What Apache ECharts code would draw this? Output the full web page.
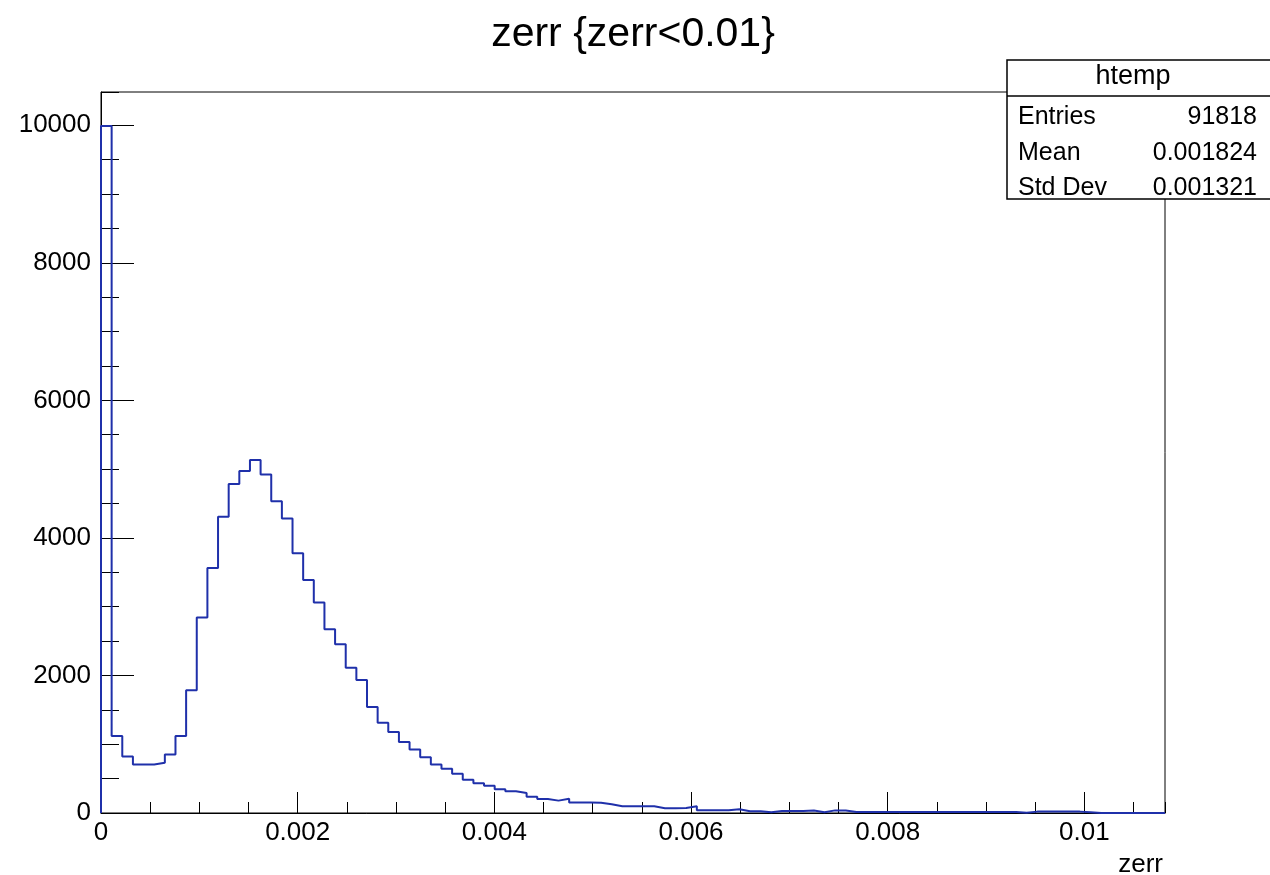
<!DOCTYPE html>
<html>
<head>
<meta charset="utf-8">
<script src="https://cdn.jsdelivr.net/npm/echarts@6/dist/echarts.min.js"></script>
<style>
html,body{margin:0;padding:0;background:#fff;}
#chart{width:1270px;height:875px;}
</style>
</head>
<body>
<div id="chart"></div>
<script>
// ---- data ----
const titleText = 'zerr {zerr<0.01}';
const xTitle = 'zerr';
const histName = 'htemp';
const statsLabels = ['Entries', 'Mean', 'Std Dev'];
const statsValues = ['91818', '0.001824', '0.001321'];
const xMin = 0;
const xMax = 0.01082;
const nBins = 100;
const yMax = 10483;
const xTickValues = [0, 0.002, 0.004, 0.006, 0.008, 0.01];
const xTickLabels = ['0', '0.002', '0.004', '0.006', '0.008', '0.01'];
const yTickValues = [0, 2000, 4000, 6000, 8000, 10000];
const yTickLabels = ['0', '2000', '4000', '6000', '8000', '10000'];
const counts = [
  9990, 1118, 822, 706, 706, 731, 851, 1118, 1783, 2841,
  3563, 4306, 4782, 4971, 5131, 4923, 4534, 4282, 3777, 3389,
  3059, 2671, 2453, 2113, 1935, 1540, 1313, 1176, 1031, 924,
  812, 706, 643, 571, 483, 434, 396, 345, 315, 292,
  235, 204, 180, 207, 153, 153, 150, 128, 99, 97,
  99, 97, 70, 70, 72, 99, 41, 41, 41, 55,
  26, 26, 12, 30, 30, 30, 35, 12, 38, 38,
  15, 15, 15, 15, 15, 15, 15, 15, 15, 15,
  15, 15, 15, 15, 15, 15, 3, 20, 20, 20,
  20, 20, 10, 0, 0, 0, 0, 0, 0, 0
];

// ---- build step outline from bins ----
const binW = (xMax - xMin) / nBins;
const pts = [[xMin, 0]];
counts.forEach((c, i) => {
  const lo = xMin + i * binW, hi = lo + binW;
  pts.push([lo, c]);
  pts.push([hi, c]);
});

function fmtFrom(values, labels) {
  return function (v) {
    for (let i = 0; i < values.length; i++) {
      if (Math.abs(v - values[i]) < 1e-9 * Math.max(1, Math.abs(values[i]))) return labels[i];
    }
    return '';
  };
}

const FONT = '"Liberation Sans", Arial, Helvetica, sans-serif';
const chart = echarts.init(document.getElementById('chart'), null, {renderer: 'canvas'});

const gridL = 101, gridR = 105, gridT = 92, gridB = 62;

chart.setOption({
  animation: false,
  backgroundColor: '#ffffff',
  grid: {left: gridL, right: gridR, top: gridT, bottom: gridB, show: true, borderColor: '#000', borderWidth: 1, backgroundColor: 'transparent'},
  xAxis: [
    {
      type: 'value', min: xMin, max: xMax, interval: 0.002, position: 'bottom',
      axisLine: {show: true, onZero: false, lineStyle: {color: '#000', width: 1}},
      axisTick: {show: true, inside: true, length: 21, lineStyle: {color: '#000', width: 1}},
      axisLabel: {show: true, margin: 7, color: '#000', fontSize: 26, fontFamily: FONT, formatter: fmtFrom(xTickValues, xTickLabels), showMaxLabel: false},
      splitLine: {show: false}
    },
    {
      type: 'value', min: xMin, max: xMax, interval: 0.0005, position: 'bottom',
      axisLine: {show: false},
      axisTick: {show: true, inside: true, length: 11, lineStyle: {color: '#000', width: 1}},
      axisLabel: {show: false},
      splitLine: {show: false}
    }
  ],
  yAxis: [
    {
      type: 'value', min: 0, max: yMax, interval: 2000, position: 'left',
      axisLine: {show: true, onZero: false, lineStyle: {color: '#000', width: 1}},
      axisTick: {show: true, inside: true, length: 33, lineStyle: {color: '#000', width: 1}},
      axisLabel: {show: true, margin: 10, color: '#000', fontSize: 26, fontFamily: FONT, formatter: fmtFrom(yTickValues, yTickLabels), showMaxLabel: false},
      splitLine: {show: false}
    },
    {
      type: 'value', min: 0, max: yMax, interval: 500, position: 'left',
      axisLine: {show: false},
      axisTick: {show: true, inside: true, length: 18, lineStyle: {color: '#000', width: 1}},
      axisLabel: {show: false},
      splitLine: {show: false}
    }
  ],
  series: [{
    type: 'line',
    xAxisIndex: 0, yAxisIndex: 0,
    data: pts,
    showSymbol: false,
    symbol: 'none',
    lineStyle: {color: '#1f30aa', width: 2},
    clip: true,
    z: 3
  }],
  graphic: [
    {type: 'text', style: {text: titleText, x: 633, y: 35, fill: '#000', font: '41px ' + FONT, textAlign: 'center', textVerticalAlign: 'middle'}, z: 10},
    {type: 'text', style: {text: xTitle, x: 1163, y: 865, fill: '#000', font: '26px ' + FONT, textAlign: 'right', textVerticalAlign: 'middle'}, z: 10},
    {type: 'rect', shape: {x: 1007, y: 60, width: 270, height: 139}, style: {fill: '#fff', stroke: '#000', lineWidth: 1.5}, z: 20},
    {type: 'line', shape: {x1: 1007, y1: 96, x2: 1275, y2: 96}, style: {stroke: '#000', lineWidth: 1.5}, z: 21},
    {type: 'text', style: {text: histName, x: 1133, y: 77, fill: '#000', font: '27px ' + FONT, textAlign: 'center', textVerticalAlign: 'middle'}, z: 22},
    {type: 'text', style: {text: statsLabels[0], x: 1018, y: 117, fill: '#000', font: '25px ' + FONT, textAlign: 'left', textVerticalAlign: 'middle'}, z: 22},
    {type: 'text', style: {text: statsLabels[1], x: 1018, y: 153, fill: '#000', font: '25px ' + FONT, textAlign: 'left', textVerticalAlign: 'middle'}, z: 22},
    {type: 'text', style: {text: statsLabels[2], x: 1018, y: 188, fill: '#000', font: '25px ' + FONT, textAlign: 'left', textVerticalAlign: 'middle'}, z: 22},
    {type: 'text', style: {text: statsValues[0], x: 1257, y: 117, fill: '#000', font: '25px ' + FONT, textAlign: 'right', textVerticalAlign: 'middle'}, z: 22},
    {type: 'text', style: {text: statsValues[1], x: 1257, y: 153, fill: '#000', font: '25px ' + FONT, textAlign: 'right', textVerticalAlign: 'middle'}, z: 22},
    {type: 'text', style: {text: statsValues[2], x: 1257, y: 188, fill: '#000', font: '25px ' + FONT, textAlign: 'right', textVerticalAlign: 'middle'}, z: 22}
  ]
});
</script>
</body>
</html>
